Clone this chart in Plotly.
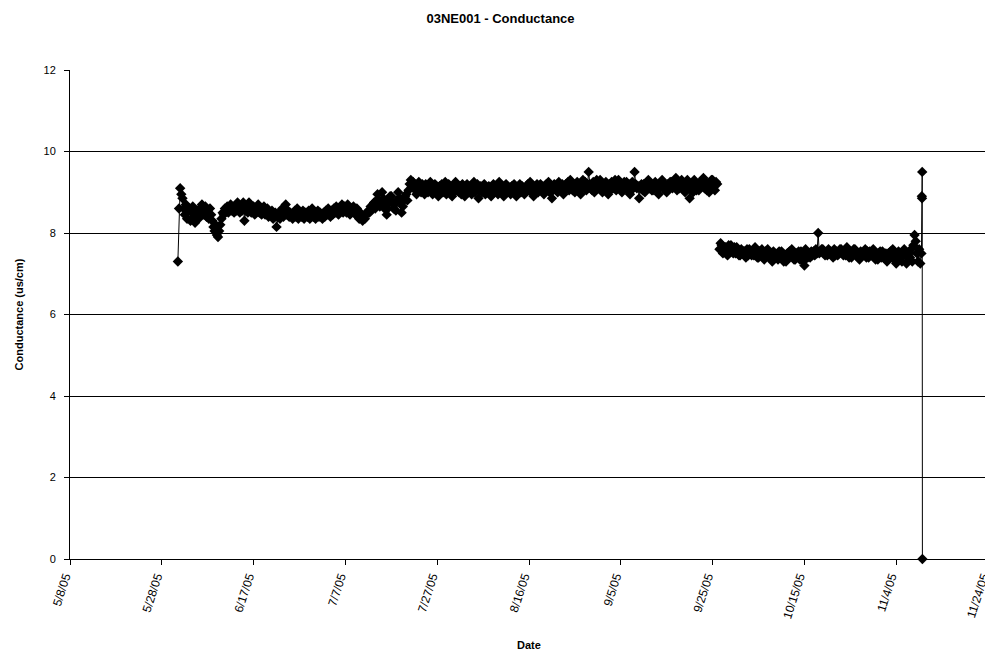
import pandas as pd
import plotly.graph_objects as go

# ---- data, 6-hourly readings ----
start_a = "2005-05-31 12:00"
cond_a = [
    7.3, 8.6,
    9.1, 8.95, 8.85, 8.6, 8.45, 8.7, 8.35, 8.55,
    8.6, 8.3, 8.5, 8.65, 8.4, 8.25, 8.55, 8.45,
    8.35, 8.6, 8.5, 8.7, 8.45, 8.55, 8.65, 8.4,
    8.5, 8.35, 8.6, 8.45, 8.3, 8.15, 8.05, 8.2,
    7.95, 7.9, 8.05, 8.2, 8.35, 8.5, 8.45, 8.6,
    8.55, 8.65, 8.5, 8.6, 8.7, 8.55, 8.6, 8.5,
    8.65, 8.55, 8.75, 8.6, 8.5, 8.6, 8.55, 8.75,
    8.3, 8.55, 8.65, 8.5, 8.75, 8.6, 8.5, 8.55,
    8.65, 8.45, 8.6, 8.55, 8.7, 8.5, 8.6, 8.45,
    8.55, 8.65, 8.45, 8.5, 8.6, 8.4, 8.5, 8.45,
    8.55, 8.35, 8.45, 8.5, 8.15, 8.4, 8.5, 8.35,
    8.45, 8.6, 8.4, 8.5, 8.7, 8.45, 8.55, 8.4,
    8.5, 8.4, 8.35, 8.45, 8.55, 8.4, 8.6, 8.35,
    8.5, 8.45, 8.4, 8.55, 8.35, 8.5, 8.45, 8.4,
    8.55, 8.35, 8.5, 8.6, 8.4, 8.5, 8.35, 8.45,
    8.55, 8.4, 8.5, 8.45, 8.35, 8.5, 8.4, 8.55,
    8.45, 8.6, 8.5, 8.4, 8.55, 8.45, 8.6, 8.5,
    8.65, 8.5, 8.45, 8.6, 8.55, 8.7, 8.5, 8.65,
    8.6, 8.5, 8.7, 8.55, 8.45, 8.6, 8.55, 8.65,
    8.5, 8.45, 8.6, 8.4, 8.35, 8.5, 8.4, 8.3,
    8.4, 8.35, 8.45, 8.5, 8.55, 8.5, 8.65, 8.6,
    8.7, 8.75, 8.6, 8.8, 8.95, 8.8, 8.65, 8.7,
    9.0, 8.85, 8.6, 8.75, 8.45, 8.6, 8.75, 8.9,
    8.9, 8.75, 8.6, 8.7, 8.55, 8.8, 9.0, 8.85,
    8.75, 8.5, 8.65, 8.8, 8.9, 8.95, 8.8, 9.05,
    9.2, 9.3, 9.15, 9.25, 9.2, 9.05, 8.95, 9.15,
    9.25, 9.1, 9.0, 9.2, 9.1, 8.95, 9.2, 9.05,
    9.0, 9.15, 9.25, 9.05, 8.95, 9.1, 9.2, 9.0,
    9.05, 8.9, 9.15, 9.1, 9.2, 9.0, 9.05, 9.25,
    8.95, 9.1, 9.2, 9.05, 9.1, 8.9, 9.0, 9.15,
    9.25, 9.05, 9.1, 9.0, 9.15, 8.95, 9.2, 9.05,
    8.9, 9.1, 9.2, 9.0, 9.05, 9.15, 8.95, 9.1,
    9.25, 9.0, 9.1, 9.2, 8.85, 9.05, 9.15, 9.0,
    9.1, 9.2, 8.95, 9.05, 9.0, 9.15, 9.1, 8.9,
    9.05, 9.2, 9.0, 9.1, 9.15, 8.95, 9.25, 9.05,
    9.1, 9.0, 8.9, 9.15, 9.2, 9.05, 9.1, 9.0,
    8.95, 9.15, 9.05, 9.2, 9.0, 8.9, 9.1, 9.05,
    9.2, 9.0, 9.15, 9.1, 8.95, 9.1, 9.05, 9.2,
    9.05, 9.25, 9.0, 9.15, 8.9, 9.1, 9.05, 9.2,
    9.0, 9.15, 9.2, 9.1, 9.05, 8.95, 9.15, 9.2,
    9.1, 9.25, 9.0, 9.15, 8.85, 9.05, 9.2, 9.1,
    9.15, 9.0, 9.25, 9.1, 9.05, 9.2, 8.95, 9.15,
    9.2, 9.1, 9.25, 9.05, 9.3, 9.15, 9.05, 9.2,
    9.0, 9.15, 9.25, 9.1, 9.2, 8.95, 9.1, 9.3,
    9.15, 9.25, 9.05, 9.2, 9.5, 9.2, 9.1, 9.05,
    9.25, 9.0, 9.15, 9.3, 9.1, 9.2, 9.3, 9.05,
    9.0, 9.2, 9.15, 9.25, 9.1, 8.95, 9.2, 9.05,
    9.25, 9.15, 9.1, 9.3, 9.05, 9.2, 9.3, 9.1,
    9.2, 9.0, 9.15, 9.25, 9.1, 9.25, 9.05, 9.2,
    8.95, 9.15, 9.25, 9.1, 9.5, 9.2, 9.1, 9.15,
    8.85, 9.1, 9.2, 9.05, 9.2, 9.0, 9.15, 9.25,
    9.3, 9.1, 9.2, 9.05, 9.05, 9.2, 9.25, 9.1,
    9.15, 8.95, 9.1, 9.2, 9.3, 9.1, 9.2, 9.15,
    9.0, 9.2, 9.1, 9.25, 9.25, 9.1, 9.15, 9.3,
    9.35, 9.05, 9.2, 9.1, 9.15, 9.3, 9.1, 9.2,
    9.0, 9.2, 9.3, 9.1, 8.85, 9.1, 9.2, 9.0,
    9.3, 9.15, 9.05, 9.2, 9.05, 9.25, 9.15, 9.3,
    9.35, 9.1, 9.2, 9.05, 9.2, 9.0, 9.15, 9.3,
    9.3, 9.15, 9.05, 9.25, 9.2,
]

start_b = "2005-09-26 12:00"
cond_b = [
    7.6, 7.75,
    7.7, 7.5, 7.6, 7.65, 7.6, 7.45, 7.7, 7.55,
    7.7, 7.55, 7.5, 7.65, 7.5, 7.65, 7.55, 7.45,
    7.45, 7.6, 7.5, 7.55, 7.55, 7.4, 7.6, 7.45,
    7.6, 7.5, 7.45, 7.55, 7.45, 7.65, 7.5, 7.4,
    7.4, 7.55, 7.45, 7.6, 7.5, 7.35, 7.55, 7.45,
    7.6, 7.45, 7.4, 7.5, 7.3, 7.55, 7.45, 7.4,
    7.45, 7.35, 7.55, 7.5, 7.55, 7.4, 7.3, 7.45,
    7.3, 7.5, 7.4, 7.55, 7.45, 7.6, 7.5, 7.35,
    7.35, 7.5, 7.45, 7.55, 7.35, 7.55, 7.45, 7.3,
    7.2, 7.6, 7.5, 7.4, 7.5, 7.4, 7.55, 7.45,
    7.55, 7.45, 7.6, 7.5, 8.0, 7.5, 7.55, 7.6,
    7.6, 7.55, 7.45, 7.5, 7.45, 7.6, 7.5, 7.55,
    7.5, 7.4, 7.6, 7.45, 7.55, 7.45, 7.5, 7.6,
    7.6, 7.5, 7.45, 7.55, 7.45, 7.65, 7.5, 7.4,
    7.5, 7.4, 7.55, 7.6, 7.6, 7.45, 7.5, 7.4,
    7.35, 7.55, 7.45, 7.5, 7.5, 7.6, 7.4, 7.55,
    7.4, 7.55, 7.5, 7.45, 7.6, 7.45, 7.35, 7.5,
    7.35, 7.5, 7.55, 7.4, 7.55, 7.4, 7.45, 7.5,
    7.3, 7.5, 7.4, 7.55, 7.45, 7.6, 7.35, 7.5,
    7.25, 7.4, 7.55, 7.45, 7.5, 7.3, 7.45, 7.6,
    7.55, 7.25, 7.4, 7.5, 7.4, 7.6, 7.3, 7.7,
    7.95, 7.8, 7.5, 7.3, 7.6, 7.25, 7.5,
]

end_times = ["2005-11-09 14:00", "2005-11-09 15:00", "2005-11-09 16:00", "2005-11-09 17:00"]
end_values = [8.9, 8.85, 9.5, 0.0]

x_tick_dates = ["2005-05-08", "2005-05-28", "2005-06-17", "2005-07-07", "2005-07-27", "2005-08-16",
                "2005-09-05", "2005-09-25", "2005-10-15", "2005-11-04", "2005-11-24"]
x_tick_labels = ["5/8/05", "5/28/05", "6/17/05", "7/7/05", "7/27/05", "8/16/05",
                 "9/5/05", "9/25/05", "10/15/05", "11/4/05", "11/24/05"]
y_ticks = [0, 2, 4, 6, 8, 10, 12]

# ---- build series ----
dates_a = list(pd.date_range(start_a, periods=len(cond_a), freq="6h"))
dates_b = list(pd.date_range(start_b, periods=len(cond_b), freq="6h")) + list(pd.to_datetime(end_times))
vals_b = cond_b + end_values

x_all = dates_a + [None] + dates_b
y_all = cond_a + [None] + vals_b

fig = go.Figure()
fig.add_trace(go.Scatter(
    x=x_all, y=y_all, mode="lines+markers",
    line=dict(color="black", width=1),
    marker=dict(symbol="diamond", size=8, color="black"),
    connectgaps=False, showlegend=False, cliponaxis=False,
))

font_family = "Liberation Sans, Arial, sans-serif"

fig.update_layout(
    width=985, height=648,
    paper_bgcolor="white", plot_bgcolor="white",
    margin=dict(l=62, r=5, t=62, b=97),
    font=dict(family=font_family, color="black", size=11),
    title=dict(text="<b>03NE001 - Conductance</b>", x=0.5, xanchor="center",
               y=1 - 10 / 648, yanchor="middle", font=dict(size=13, family=font_family)),
    shapes=[dict(type="line", xref="paper", yref="paper", x0=1, x1=1, y0=0, y1=1,
                 line=dict(color="#808080", width=1))],
    annotations=[dict(text="<b>Date</b>", xref="paper", yref="paper", x=0.5, y=-86 / 489,
                      xanchor="center", yanchor="middle", showarrow=False, font=dict(size=11))],
)

fig.update_xaxes(
    type="date",
    range=["2005-05-08", "2005-11-24"],
    tickmode="array", tickvals=x_tick_dates, ticktext=x_tick_labels,
    tickangle=-72, ticklabeloverflow="allow", ticklabelshift=-5,
    ticks="outside", ticklen=5, tickcolor="black",
    showline=True, linecolor="black", linewidth=1,
    showgrid=False, zeroline=False, automargin=False,
    tickfont=dict(size=12),
)

fig.update_yaxes(
    range=[0, 12], tickvals=y_ticks,
    ticks="outside", ticklen=5, tickcolor="black",
    ticklabelstandoff=6,
    showline=True, linecolor="black", linewidth=1,
    showgrid=True, gridcolor="black", gridwidth=1,
    zeroline=False, automargin=False,
    tickfont=dict(size=11),
    title=dict(text="<b>Conductance (us/cm)</b>", font=dict(size=11), standoff=17),
)

fig.write_html("out.html")
